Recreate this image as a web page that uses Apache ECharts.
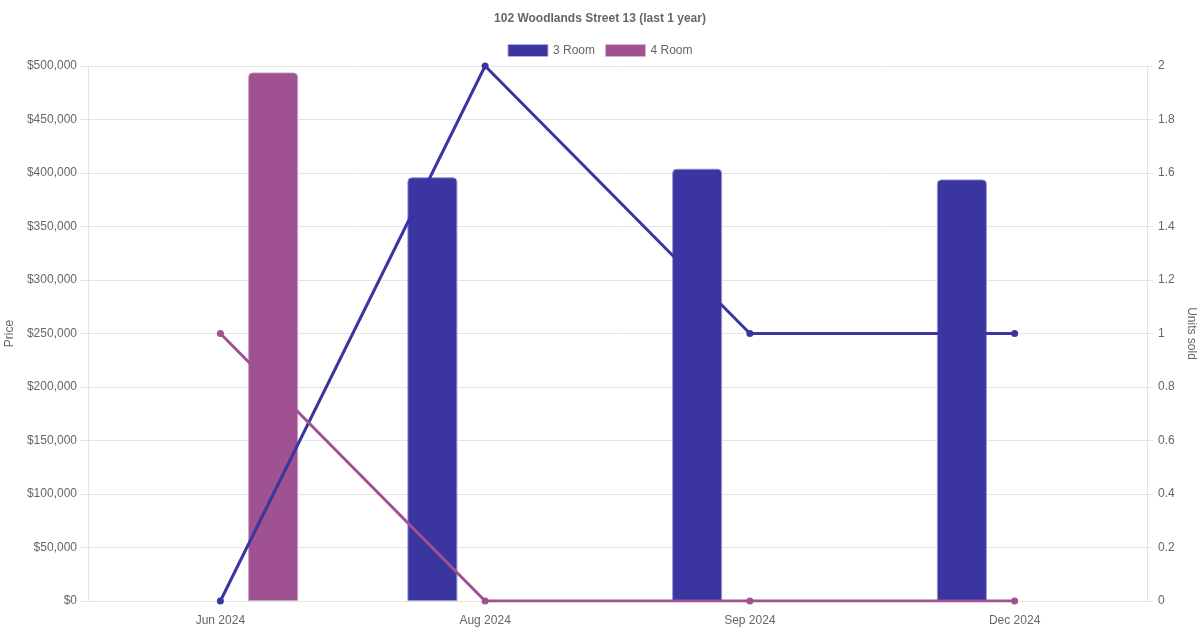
<!DOCTYPE html>
<html>
<head>
<meta charset="utf-8">
<script src="https://cdn.jsdelivr.net/npm/echarts@6/dist/echarts.min.js"></script>
<style>html,body{margin:0;padding:0;background:#fff}#c{width:1200px;height:630px}</style>
</head>
<body>
<div id="c"></div>
<script>
var categories = ['Jun 2024', 'Aug 2024', 'Sep 2024', 'Dec 2024'];
var price3Room = [null, 396000, 404000, 394000];
var price4Room = [494000, null, null, null];
var units3Room = [0, 2, 1, 1];
var units4Room = [1, 0, 0, 0];
var seriesNames = ['3 Room', '4 Room'];

var C3 = '#3a35a0', C4 = '#9f5191';
var FONT = '"Liberation Sans", Arial, sans-serif';
var GRID = '#e4e4e4';
var chart = echarts.init(document.getElementById('c'));
chart.setOption({
  animation: false,
  textStyle: { fontFamily: FONT },
  title: {
    text: '102 Woodlands Street 13 (last 1 year)',
    left: 'center', top: 8,
    textStyle: { fontSize: 12, fontWeight: 'bold', color: '#666', fontFamily: FONT }
  },
  legend: {
    top: 39, left: 'center', itemWidth: 40, itemHeight: 12, itemGap: 10,
    textStyle: { fontSize: 12, color: '#666', fontFamily: FONT },
    data: [
      { name: seriesNames[0], icon: 'rect', itemStyle: { color: C3, borderColor: 'rgba(180,178,230,0.9)', borderWidth: 1 } },
      { name: seriesNames[1], icon: 'rect', itemStyle: { color: C4, borderColor: 'rgba(220,180,210,0.9)', borderWidth: 1 } }
    ]
  },
  grid: { left: 88, right: 53, top: 66, bottom: 29, containLabel: false, outerBoundsMode: 'none' },
  xAxis: {
    type: 'category', data: categories,
    axisLine: { lineStyle: { color: GRID } },
    axisTick: { show: false },
    axisLabel: { color: '#666', fontSize: 12, margin: 14, fontFamily: FONT },
    splitLine: { show: false }
  },
  yAxis: [
    {
      type: 'value', min: 0, max: 500000, interval: 50000,
      name: 'Price', nameLocation: 'middle', nameGap: 67,
      nameTextStyle: { color: '#666', fontSize: 12, fontFamily: FONT },
      axisLine: { show: true, lineStyle: { color: GRID } },
      axisTick: { show: true, length: 8, lineStyle: { color: GRID } },
      axisLabel: { color: '#666', fontSize: 12, margin: 11, fontFamily: FONT,
        formatter: function (v) { return '$' + v.toLocaleString('en-US'); } },
      splitLine: { show: true, lineStyle: { color: GRID } }
    },
    {
      type: 'value', min: 0, max: 2, interval: 0.2, position: 'right',
      name: 'Units sold', nameLocation: 'middle', nameGap: 26, nameRotate: -90,
      nameTextStyle: { color: '#666', fontSize: 12, fontFamily: FONT },
      axisLine: { show: true, lineStyle: { color: GRID } },
      axisTick: { show: true, length: 6, lineStyle: { color: GRID } },
      axisLabel: { color: '#666', fontSize: 12, margin: 11, fontFamily: FONT },
      splitLine: { show: false }
    }
  ],
  series: [
    { name: seriesNames[0], type: 'bar', data: price3Room, barWidth: 50, barGap: '111%',
      itemStyle: { color: C3, borderColor: 'rgba(150,146,215,0.9)', borderWidth: 1, borderRadius: [4, 4, 0, 0] } },
    { name: seriesNames[1], type: 'bar', data: price4Room, barWidth: 50, barGap: '111%',
      itemStyle: { color: C4, borderColor: 'rgba(205,160,195,0.9)', borderWidth: 1, borderRadius: [4, 4, 0, 0] } },
    { name: seriesNames[0], type: 'line', yAxisIndex: 1, data: units3Room, symbol: 'circle', symbolSize: 7,
      lineStyle: { color: C3, width: 3 }, itemStyle: { color: C3 } },
    { name: seriesNames[1], type: 'line', yAxisIndex: 1, data: units4Room, symbol: 'circle', symbolSize: 7,
      lineStyle: { color: C4, width: 3 }, itemStyle: { color: C4 } }
  ]
});
</script>
</body>
</html>
